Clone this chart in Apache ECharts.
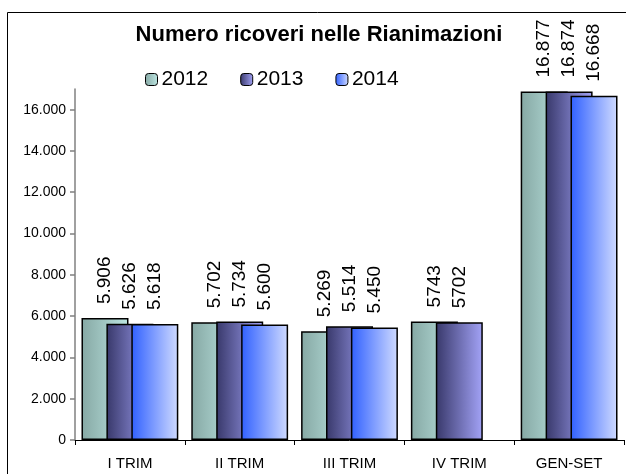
<!DOCTYPE html>
<html>
<head>
<meta charset="utf-8">
<script src="https://cdn.jsdelivr.net/npm/echarts@6/dist/echarts.min.js"></script>
<style>
  html, body { margin: 0; padding: 0; background: #fff; }
  #chart { width: 626px; height: 474px; }
</style>
</head>
<body>
<div id="chart"></div>
<script>
const categories = ['I TRIM', 'II TRIM', 'III TRIM', 'IV TRIM', 'GEN-SET'];
const years = ['2012', '2013', '2014'];
const values2012 = [5906, 5702, 5269, 5743, 16877];
const values2013 = [5626, 5734, 5514, 5702, 16874];
const values2014 = [5618, 5600, 5450, null, 16668];
const labels2012 = ['5.906', '5.702', '5.269', '5743', '16.877'];
const labels2013 = ['5.626', '5.734', '5.514', '5702', '16.874'];
const labels2014 = ['5.618', '5.600', '5.450', '', '16.668'];
const yTicks = [0, 2000, 4000, 6000, 8000, 10000, 12000, 14000, 16000];

const FONT = 'Liberation Sans, Arial, sans-serif';

function grad(c1, c2) {
  return new echarts.graphic.LinearGradient(0, 0, 1, 0, [
    { offset: 0, color: c1 },
    { offset: 1, color: c2 },
  ]);
}

const fills = [
  grad('#86a8a4', '#bde6e2'),
  grad('#38386a', '#a3a3f7'),
  grad('#3060ff', '#d0dbff'),
];

function makeSeries(name, data, labels, fill) {
  return {
    name: name,
    type: 'bar',
    data: data,
    barWidth: 47,
    barGap: '-47%',
    itemStyle: { color: fill, borderColor: '#000', borderWidth: 1.5 },
    label: {
      show: true,
      position: 'top',
      rotate: 90,
      align: 'left',
      verticalAlign: 'middle',
      distance: 14,
      color: '#000',
      fontFamily: FONT,
      fontSize: 19,
      formatter: (p) => labels[p.dataIndex],
    },
  };
}

const chart = echarts.init(document.getElementById('chart'));

chart.setOption({
  animation: false,
  backgroundColor: '#fff',
  textStyle: { fontFamily: FONT },
  title: {
    text: 'Numero ricoveri nelle Rianimazioni',
    left: 314,
    textAlign: 'center',
    top: 19,
    textStyle: { fontFamily: FONT, fontSize: 22, fontWeight: 'bold', color: '#000' },
  },
  legend: {
    data: years,
    left: 140,
    top: 64,
    itemWidth: 12,
    itemHeight: 12,
    itemGap: 32,
    textStyle: { fontFamily: FONT, fontSize: 21, color: '#000', padding: [0, 0, 0, -1] },
    itemStyle: { borderColor: '#000', borderWidth: 1 },
  },
  graphic: [
    {
      type: 'rect',
      shape: { x: 7.5, y: 12.5, width: 640, height: 480 },
      style: { fill: 'none', stroke: '#000', lineWidth: 1 },
      silent: true,
      z: 100,
    },
  ],
  grid: { left: 75, right: 2, top: 89, bottom: 34 },
  xAxis: {
    type: 'category',
    data: categories,
    axisLine: { lineStyle: { color: '#000', width: 1 } },
    axisTick: { show: true, length: 5, lineStyle: { color: '#000' } },
    axisLabel: { color: '#000', fontFamily: FONT, fontSize: 15, margin: 16 },
  },
  yAxis: {
    type: 'value',
    min: 0,
    max: 17000,
    interval: 1000,
    splitLine: { show: false },
    axisLine: { show: true, lineStyle: { color: '#808080', width: 1.5 } },
    axisTick: { show: true, length: 5, inside: false, customValues: yTicks, lineStyle: { color: '#808080', width: 1.5 } },
    axisLabel: {
      color: '#000',
      fontFamily: FONT,
      fontSize: 14,
      margin: 9,
      customValues: yTicks,
      formatter: (v) => (v >= 1000 ? Math.floor(v / 1000) + '.' + String(v % 1000).padStart(3, '0') : String(v)),
    },
  },
  series: [
    makeSeries(years[0], values2012, labels2012, fills[0]),
    makeSeries(years[1], values2013, labels2013, fills[1]),
    makeSeries(years[2], values2014, labels2014, fills[2]),
  ],
});
</script>
</body>
</html>
